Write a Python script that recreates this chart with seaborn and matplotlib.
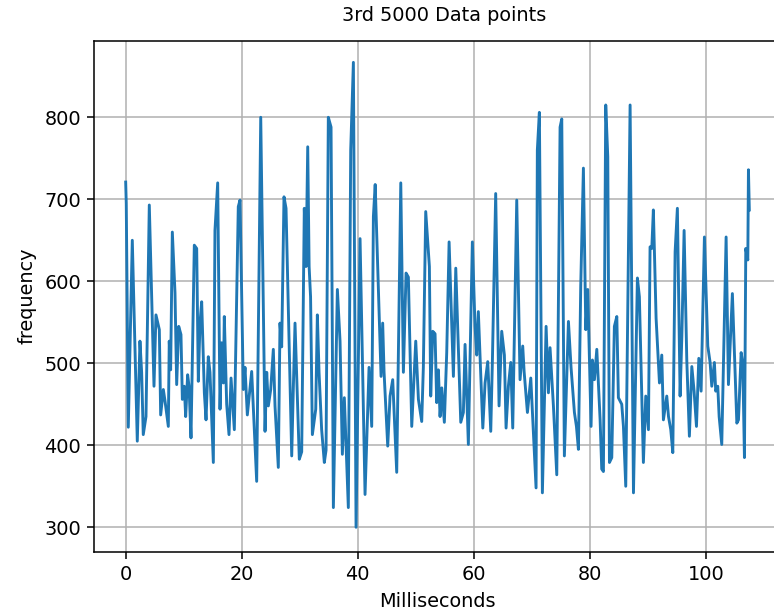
import pandas as pd
import seaborn as sns
import matplotlib
matplotlib.use("Agg")
import matplotlib.pyplot as plt

# values (ms, frequency)
milliseconds = [
    0.0, 0.1, 0.45, 1.14, 2.00, 2.46, 2.75, 3.03, 3.50, 4.07, 4.88, 5.22, 5.80, 6.03, 6.49, 6.78,
    7.35, 7.51, 7.75, 8.04, 8.50, 8.79, 9.14, 9.53, 9.77, 10.10, 10.34, 10.68, 10.92, 11.26, 11.83,
    12.24, 12.52, 12.81, 13.10, 13.56, 13.85, 14.24, 14.53, 15.11, 15.39, 15.86, 16.26, 16.54, 16.84,
    17.00, 17.41, 17.81, 18.16, 18.73, 19.41, 19.71, 20.28, 20.57, 20.97, 21.72, 22.58, 23.28, 24.02,
    24.31, 24.59, 25.00, 25.45, 25.74, 26.31, 26.60, 26.89, 27.29, 27.64, 28.62, 28.90, 29.19,
    29.93, 30.34, 30.79, 31.09, 31.38, 31.62, 31.87, 32.02, 32.18, 32.76, 33.04, 33.33, 33.78, 34.24,
    34.54, 34.93, 35.40, 35.80, 36.49, 36.95, 37.35, 37.69, 38.38, 38.79, 39.25, 39.71, 40.40,
    41.26, 41.95, 42.41, 42.70, 43.01, 44.02, 44.30, 44.54, 45.17, 45.57, 46.03, 46.72, 47.42,
    47.87, 48.33, 48.73, 49.31, 50.00, 50.46, 51.03, 51.31, 51.72, 52.35, 52.58, 52.93, 53.33,
    53.61, 53.90, 54.19, 54.49, 54.93, 55.34, 55.75, 56.49, 56.90, 57.76, 58.21, 58.50, 59.07,
    59.76, 60.22, 60.51, 60.79, 61.56, 61.95, 62.41, 62.93, 63.21, 63.78, 64.36, 64.82, 65.28,
    65.57, 65.97, 66.38, 66.72, 67.41, 67.98, 68.44, 68.68, 69.25, 69.83, 70.74, 70.96, 71.31,
    71.83, 72.47, 72.87, 73.15, 73.73, 74.31, 74.88, 75.17, 75.62, 76.32, 76.77, 77.35, 77.70,
    78.04, 78.44, 78.90, 79.31, 79.65, 79.94, 80.22, 80.45, 80.80, 81.21, 81.78, 82.06, 82.35,
    82.75, 83.10, 83.39, 83.79, 84.24, 84.66, 84.93, 85.51, 85.80, 86.20, 86.95, 87.53, 88.21,
    88.55, 89.24, 89.65, 90.11, 90.39, 90.69, 90.96, 91.43, 92.01, 92.41, 92.69, 93.27, 93.57,
    93.96, 94.31, 94.71, 95.10, 95.57, 95.87, 96.26, 96.72, 97.17, 97.59, 97.98, 98.39, 98.79,
    99.19, 99.76, 100.34, 100.74, 101.03, 101.48, 101.71, 102.06, 102.30, 102.75, 103.50, 103.90,
    104.58, 105.35, 105.63, 106.09, 106.37, 106.66, 106.89, 107.24, 107.35, 107.50,
]
frequency = [
    721, 695, 422, 650, 405, 527, 489, 413, 435, 693, 472, 559, 541, 437, 468, 454,
    423, 527, 492, 660, 586, 474, 545, 535, 456, 472, 435, 486, 472, 409, 644,
    640, 478, 549, 575, 464, 431, 508, 489, 379, 662, 720, 444, 525, 476,
    557, 450, 413, 482, 419, 691, 699, 468, 495, 437, 490, 356, 800, 417,
    489, 448, 468, 517, 448, 373, 549, 520, 703, 689, 387, 470, 549,
    383, 392, 689, 618, 764, 618, 581, 502, 413, 444, 559, 489, 419, 379,
    394, 800, 788, 324, 590, 527, 389, 458, 324, 760, 867, 300, 652,
    340, 495, 423, 679, 718, 484, 549, 489, 399, 460, 480, 367, 720,
    489, 610, 605, 423, 527, 456, 429, 495, 685, 618, 460, 539, 536,
    452, 492, 435, 470, 428, 513, 648, 484, 616, 428, 440, 523, 401,
    648, 545, 510, 563, 421, 476, 502, 417, 502, 707, 448, 539, 510,
    421, 472, 501, 421, 699, 480, 521, 490, 440, 482, 348, 760, 806,
    342, 545, 464, 519, 448, 364, 788, 798, 387, 551, 495, 440, 423,
    395, 594, 738, 541, 590, 504, 423, 504, 480, 517, 431, 371, 368,
    815, 752, 379, 385, 545, 557, 458, 450, 423, 350, 815, 342, 604,
    581, 379, 460, 419, 642, 640, 687, 555, 476, 510, 431, 460, 435,
    419, 391, 636, 689, 460, 533, 662, 504, 411, 496, 466, 423, 506,
    466, 654, 521, 501, 472, 501, 466, 472, 435, 401, 654, 474,
    585, 427, 431, 513, 500, 385, 640, 626, 736, 687,
]

df = pd.DataFrame({"Milliseconds": milliseconds, "frequency": frequency})

DPI = 138.5
fig = plt.figure(figsize=(775 / DPI, 612 / DPI), dpi=DPI)
# the reference is a crop of a larger figure: the axes run past the right edge
ax = fig.add_axes([94.5 / 775, 60.3 / 612, 686 / 775, 511 / 612])

sns.lineplot(data=df, x="Milliseconds", y="frequency", estimator=None,
             color="#1f77b4", linewidth=1.5, ax=ax)

ax.set_xlim(-5.375, 112.875)
ax.set_ylim(270.2, 893.4)
ax.set_xticks([0, 20, 40, 60, 80, 100])
ax.set_yticks([300, 400, 500, 600, 700, 800])
ax.tick_params(labelsize=10)
ax.grid(True, color="#b0b0b0", linewidth=0.8)
ax.set_title("3rd 5000 Data points", fontsize=10, pad=10.5, x=0.51)
ax.set_xlabel("Milliseconds", fontsize=10)
ax.set_ylabel("frequency", fontsize=10)

fig.savefig("out.png", dpi=DPI)
